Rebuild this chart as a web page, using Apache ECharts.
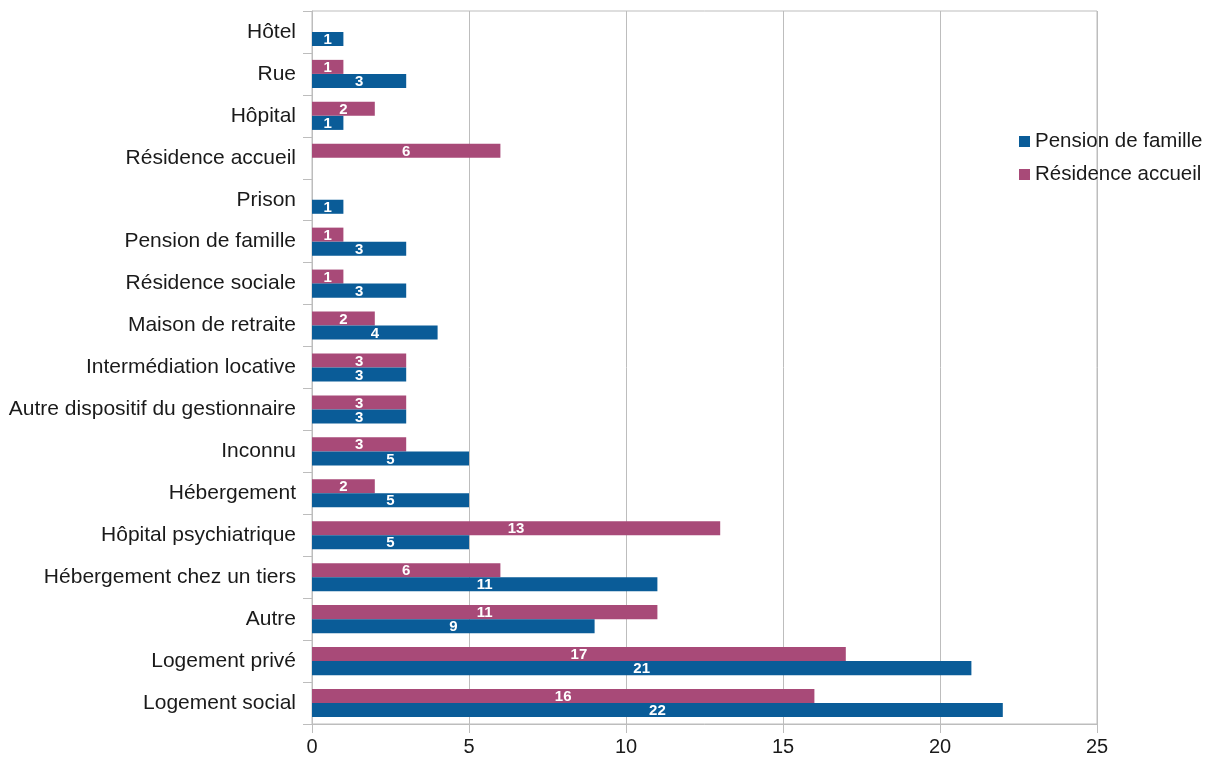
<!DOCTYPE html>
<html>
<head>
<meta charset="utf-8">
<script src="https://cdn.jsdelivr.net/npm/echarts@6/dist/echarts.min.js"></script>
<style>
  html, body { margin: 0; padding: 0; background: #fff; }
  #chart { width: 1215px; height: 762px; }
</style>
</head>
<body>
<div id="chart"></div>
<script>
// Provenance of residents, top to bottom
const categories = [
  'Hôtel', 'Rue', 'Hôpital', 'Résidence accueil', 'Prison', 'Pension de famille',
  'Résidence sociale', 'Maison de retraite', 'Intermédiation locative',
  'Autre dispositif du gestionnaire', 'Inconnu', 'Hébergement',
  'Hôpital psychiatrique', 'Hébergement chez un tiers', 'Autre',
  'Logement privé', 'Logement social'
];
const seriesNames = ['Pension de famille', 'Résidence accueil'];
const pensionFamille = [1, 3, 1, null, 1, 3, 3, 4, 3, 3, 5, 5, 5, 11, 9, 21, 22];
const residenceAccueil = [null, 1, 2, 6, null, 1, 1, 2, 3, 3, 3, 2, 13, 6, 11, 17, 16];
const xTicks = { min: 0, max: 25, interval: 5 };

const font = 'Liberation Sans, Arial, sans-serif';
const valueLabel = {
  show: true, position: 'inside', color: '#fff', fontWeight: 'bold',
  fontSize: 15, fontFamily: font, offset: [0, 1]
};

const chart = echarts.init(document.getElementById('chart'));
chart.setOption({
  animation: false,
  textStyle: { fontFamily: font },
  grid: {
    left: 312, right: 118, top: 11, bottom: 38,
    show: true, borderColor: '#bdbdbd', borderWidth: 1
  },
  legend: {
    orient: 'vertical', left: 1014, top: 126,
    itemWidth: 11, itemHeight: 11, itemGap: 12, icon: 'rect',
    textStyle: { fontSize: 20.5, color: '#1a1a1a', fontFamily: font },
    data: seriesNames
  },
  xAxis: {
    type: 'value', min: xTicks.min, max: xTicks.max, interval: xTicks.interval,
    axisLine: { show: true, lineStyle: { color: '#bdbdbd' } },
    axisTick: { show: true, length: 9, lineStyle: { color: '#bdbdbd' } },
    splitLine: { show: true, lineStyle: { color: '#bdbdbd' } },
    axisLabel: { fontSize: 20, color: '#1a1a1a', margin: 13, fontFamily: font }
  },
  yAxis: {
    type: 'category', data: categories, inverse: true,
    axisLine: { show: true, lineStyle: { color: '#bdbdbd' } },
    axisTick: { show: true, length: 9, lineStyle: { color: '#bdbdbd' } },
    axisLabel: {
      fontSize: 21, color: '#1a1a1a', margin: 16, fontFamily: font,
      padding: [6, 0, 0, 0]
    }
  },
  // Résidence accueil bars sit above Pension de famille bars in each row
  series: [
    {
      name: seriesNames[1], type: 'bar', data: residenceAccueil,
      itemStyle: { color: '#a84a78' },
      barGap: '0%', barCategoryGap: '33%',
      label: valueLabel
    },
    {
      name: seriesNames[0], type: 'bar', data: pensionFamille,
      itemStyle: { color: '#0a5c98' },
      barGap: '0%', barCategoryGap: '33%',
      label: valueLabel
    }
  ]
});
</script>
</body>
</html>
